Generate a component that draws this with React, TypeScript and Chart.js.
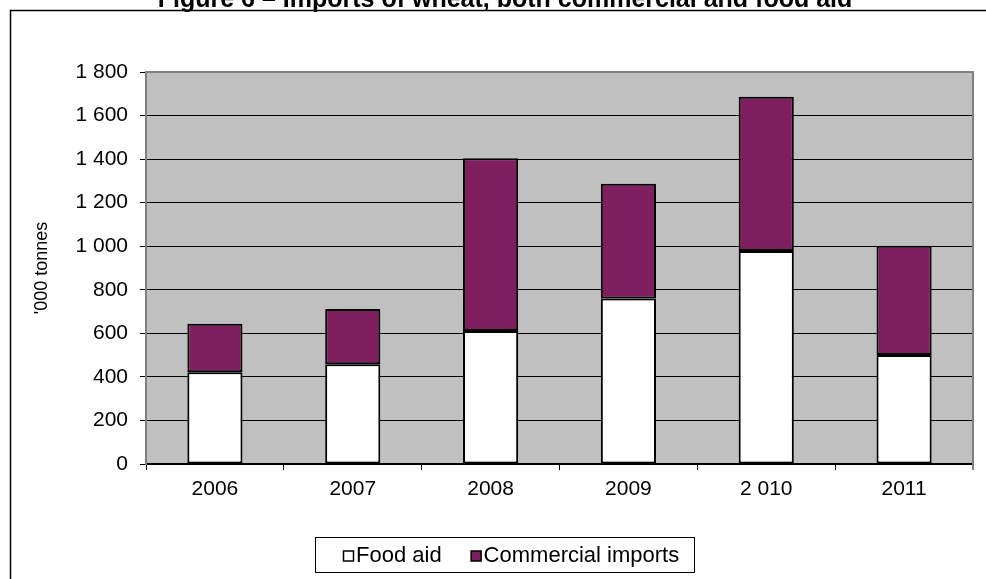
import React, { useEffect, useRef } from "react";
import { Chart, registerables } from "chart.js";

Chart.register(...registerables);

const TITLE = "Figure 6 – Imports of wheat, both commercial and food aid";
const Y_TITLE = "'000 tonnes";
const years = ["2006", "2007", "2008", "2009", "2 010", "2011"];
const foodAid = [421, 458, 611, 760, 978, 500];
const commercialImports = [223, 254, 793, 527, 708, 502];
const seriesNames = ["Food aid", "Commercial imports"];
const seriesColors = ["#FFFFFF", "#7F1F5F"];
const yMax = 1800;
const yStep = 200;

const FONT = "'Liberation Sans', Arial, sans-serif";

const fmt = (v: number) => String(v).replace(/\B(?=(\d{3})+(?!\d))/g, " ");

const decorPlugin = {
  id: "decor",
  beforeDraw(chart: any) {
    const { ctx, chartArea: a, width, height } = chart;
    ctx.save();
    ctx.fillStyle = "#FFFFFF";
    ctx.fillRect(0, 0, width, height);
    // outer frame (left and top)
    ctx.strokeStyle = "#000000";
    ctx.lineWidth = 1.5;
    ctx.beginPath();
    ctx.moveTo(10.5, height + 2);
    ctx.lineTo(10.5, 10.5);
    ctx.lineTo(width + 2, 10.5);
    ctx.stroke();
    // title (cut off at the top)
    ctx.fillStyle = "#000000";
    ctx.font = `bold 25px ${FONT}`;
    ctx.textAlign = "center";
    ctx.textBaseline = "alphabetic";
    ctx.fillText(TITLE, 505, 7);
    // plot area background
    ctx.fillStyle = "#C0C0C0";
    ctx.fillRect(a.left, a.top, a.right - a.left, a.bottom - a.top);
    ctx.restore();
  },
  beforeDatasetsDraw(chart: any) {
    const { ctx, chartArea: a } = chart;
    ctx.save();
    ctx.strokeStyle = "#808080";
    ctx.lineWidth = 2;
    ctx.beginPath();
    ctx.moveTo(a.left, a.bottom);
    ctx.lineTo(a.left, a.top);
    ctx.lineTo(a.right, a.top);
    ctx.lineTo(a.right, a.bottom + 6);
    ctx.stroke();
    ctx.restore();
  },
  afterDraw(chart: any) {
    const { ctx } = chart;
    const ds = chart.data.datasets;
    ctx.save();
    // legend box
    ctx.strokeStyle = "#000000";
    ctx.lineWidth = 1;
    ctx.strokeRect(315.5, 537.5, 379, 35);
    ctx.font = `22px ${FONT}`;
    ctx.textBaseline = "middle";
    ctx.textAlign = "left";
    let x = 343;
    const cy = 556;
    ds.forEach((d: any, i: number) => {
      ctx.fillStyle = d.backgroundColor;
      ctx.fillRect(x + 0.5, cy - 5, 10, 10);
      ctx.strokeStyle = "#000000";
      ctx.lineWidth = 1.5;
      ctx.strokeRect(x + 0.5, cy - 5, 10, 10);
      ctx.fillStyle = "#000000";
      ctx.fillText(d.label, x + 13, cy);
      x += 13 + ctx.measureText(d.label).width + 29;
    });
    ctx.restore();
  },
};

export default function App() {
  const ref = useRef<HTMLCanvasElement | null>(null);
  useEffect(() => {
    if (!ref.current) return;
    Chart.defaults.font.family = FONT;
    Chart.defaults.color = "#000000";
    const chart = new Chart(ref.current, {
      type: "bar",
      data: {
        labels: years,
        datasets: [
          {
            label: seriesNames[0],
            data: foodAid,
            backgroundColor: seriesColors[0],
            borderColor: "#000000",
            borderWidth: 2,
            borderSkipped: false,
          },
          {
            label: seriesNames[1],
            data: commercialImports,
            backgroundColor: seriesColors[1],
            borderColor: "#000000",
            borderWidth: 2,
            borderSkipped: false,
          },
        ],
      },
      options: {
        responsive: false,
        animation: false,
        events: [],
        layout: { padding: { top: 72, right: 13, left: 0, bottom: 0 } },
        datasets: { bar: { barPercentage: 0.4, categoryPercentage: 1 } },
        plugins: {
          legend: { display: false },
          tooltip: { enabled: false },
          title: { display: false },
        },
        scales: {
          x: {
            stacked: true,
            afterFit: (s: any) => {
              s.height = 115;
            },
            grid: {
              offset: true,
              drawOnChartArea: false,
              drawTicks: true,
              tickLength: 6,
              color: "#000000",
              lineWidth: 1,
            },
            border: { display: true, color: "#000000", width: 1.5 },
            ticks: {
              font: { size: 21, family: FONT },
              color: "#000000",
              padding: 7,
              maxRotation: 0,
            },
          },
          y: {
            stacked: true,
            min: 0,
            max: yMax,
            afterFit: (s: any) => {
              s.width = 146;
            },
            grid: {
              color: "#000000",
              lineWidth: 1,
              drawTicks: true,
              tickLength: 6,
              tickColor: "#000000",
            },
            border: { display: true, color: "#808080", width: 2 },
            ticks: {
              stepSize: yStep,
              font: { size: 21, family: FONT },
              color: "#000000",
              padding: 12,
              callback: (v: any) => fmt(Number(v)),
            },
            title: {
              display: true,
              text: Y_TITLE,
              font: { size: 18, family: FONT },
              color: "#000000",
              padding: { top: 31, bottom: 0 },
            },
          },
        },
      },
      plugins: [decorPlugin],
    });
    return () => chart.destroy();
  }, []);
  return (
    <div style={{ position: "fixed", left: 0, top: 0, width: 986, height: 579, background: "#fff" }}>
      <canvas ref={ref} width={986} height={579} style={{ display: "block" }} />
    </div>
  );
}
